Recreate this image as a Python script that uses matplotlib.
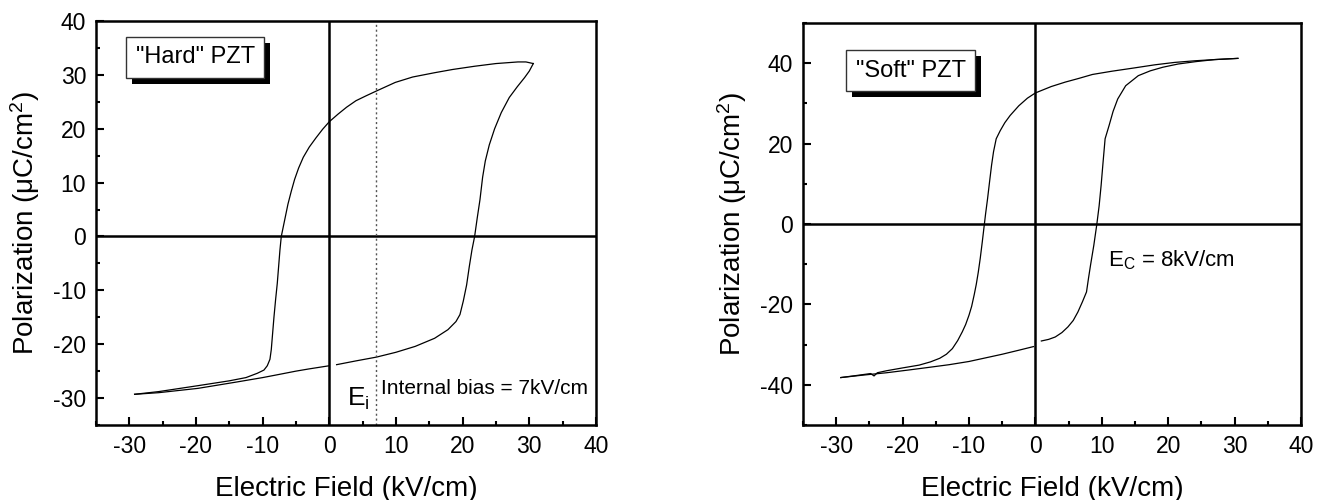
import matplotlib
matplotlib.use('agg')
import matplotlib.pyplot as plt
from matplotlib.ticker import MultipleLocator
from matplotlib.patches import Rectangle

plt.rcParams['font.family'] = ['Liberation Sans', 'DejaVu Sans']
plt.rcParams['mathtext.fontset'] = 'custom'
plt.rcParams['mathtext.rm'] = 'Liberation Sans'
plt.rcParams['mathtext.it'] = 'Liberation Sans'
plt.rcParams['mathtext.default'] = 'regular'
plt.rcParams['axes.unicode_minus'] = False

# "Hard" PZT loop (kV/cm, uC/cm2)
hard_up_E = [30.6, 29.5, 28.3, 25.0, 21.8, 18.5, 15.8, 12.5, 9.9, 7.06, 5.5, 4.0, 2.6, 1.3, 0.0,
             -1.0, -2.0, -3.0, -3.9, -4.6, -5.2, -5.7, -6.2, -6.6, -7.0, -7.2, -7.4, -7.6, -7.8,
             -8.05, -8.3, -8.5, -8.7, -8.9, -9.3, -9.8, -10.8, -12.5, -15.0, -19.7, -25.6, -29.2]
hard_up_P = [32.1, 32.4, 32.4, 32.1, 31.6, 31.0, 30.4, 29.6, 28.6, 27.0, 26.1, 25.2, 24.0, 22.7, 21.3,
             19.9, 18.3, 16.6, 14.7, 12.7, 10.6, 8.4, 6.0, 3.6, 1.2, 0.0, -2.5, -5.6, -8.7,
             -11.7, -15.0, -18.0, -21.0, -22.8, -24.0, -24.8, -25.4, -26.2, -26.8, -27.7, -28.8, -29.3]
hard_lo1_E = [-29.2, -25.6, -19.7, -13.8, -10.0, -7.9, -5.0, -3.1, 0.0]
hard_lo1_P = [-29.3, -29.0, -28.2, -27.0, -26.2, -25.7, -25.0, -24.6, -24.0]
hard_lo2_E = [1.1, 4.0, 7.06, 10.0, 12.9, 15.8, 17.8, 19.0, 19.6, 20.1, 20.6, 21.0, 21.4, 21.8,
              22.2, 22.6, 23.0, 23.4, 24.0, 24.8, 25.8, 27.0, 28.2, 29.3, 30.0, 30.6]
hard_lo2_P = [-23.8, -23.1, -22.4, -21.5, -20.4, -18.9, -17.3, -15.8, -14.5, -12.0, -9.0, -5.6, -2.5, 0.0,
              3.5, 6.8, 11.0, 14.0, 17.0, 20.0, 23.0, 25.8, 27.8, 29.5, 30.7, 32.1]

# "Soft" PZT loop
soft_up_E = [30.5, 27.0, 24.0, 21.0, 18.0, 14.8, 11.5, 8.6, 6.5, 4.5, 2.4, 0.0, -1.2, -2.5, -3.8,
             -4.6, -5.3, -5.9, -6.3, -6.6, -6.9, -7.2, -7.5, -7.7, -8.0, -8.3, -8.6, -8.9, -9.2,
             -9.6, -10.0, -10.5, -11.0, -11.7, -12.5, -13.4, -14.4, -15.8, -17.5, -20.0, -22.4,
             -23.8, -24.3, -24.8, -27.0, -29.3]
soft_up_P = [41.2, 40.9, 40.6, 40.2, 39.6, 38.8, 38.0, 37.2, 36.2, 35.3, 34.2, 32.6, 31.3, 29.4, 27.0,
             25.2, 23.2, 21.2, 18.0, 14.6, 10.5, 6.3, 2.5, -0.3, -4.5, -8.5, -12.0, -15.0, -17.5,
             -20.5, -22.7, -25.0, -26.8, -29.0, -31.0, -32.4, -33.4, -34.3, -35.1, -35.8, -36.5,
             -37.0, -37.8, -37.2, -37.7, -38.2]
soft_lo1_E = [-29.3, -26.0, -22.4, -19.0, -16.2, -13.0, -10.0, -7.5, -5.0, -2.5, -0.3]
soft_lo1_P = [-38.2, -37.6, -37.0, -36.3, -35.7, -35.0, -34.2, -33.3, -32.4, -31.4, -30.5]
soft_lo2_E = [0.9, 2.0, 3.0, 4.0, 4.9, 5.7, 6.4, 7.1, 7.7, 8.0, 8.3, 8.8, 9.25, 9.6, 9.9, 10.2,
              10.5, 11.1, 11.7, 12.4, 13.6, 15.5, 17.3, 19.2, 21.5, 24.2, 27.0, 30.5]
soft_lo2_P = [-29.1, -28.7, -28.1, -27.0, -25.6, -24.0, -21.9, -19.3, -16.9, -13.5, -10.3, -5.3, -0.1,
              4.5, 9.6, 15.5, 21.2, 24.5, 28.0, 31.1, 34.4, 36.9, 38.1, 39.0, 39.8, 40.4, 40.9, 41.2]

hard_ticks_y = [-30, -20, -10, 0, 10, 20, 30, 40]
soft_ticks_y = [-40, -20, 0, 20, 40]
ticks_x = [-30, -20, -10, 0, 10, 20, 30, 40]
bias_E = 7

boxes = []


def shadow_box(ax, x, y, s):
    t = ax.text(x, y, s, ha='center', va='center', fontsize=17, color='black',
                bbox=dict(boxstyle='square,pad=0.4', fc='white', ec='#333333', lw=1), zorder=6)
    boxes.append((ax, t))


def add_shadows(fig):
    fig.canvas.draw()
    r = fig.canvas.get_renderer()
    for ax, t in boxes:
        bb = t.get_bbox_patch().get_window_extent(r)
        inv = ax.transData.inverted()
        (x0, y0), (x1, y1) = inv.transform([(bb.x0 + 6, bb.y0 - 6), (bb.x1 + 6, bb.y1 - 6)])
        ax.add_patch(Rectangle((x0, y0), x1 - x0, y1 - y0, fc='black', ec='none',
                               zorder=5, clip_on=False))


def style(ax, ylim, yticks, ystep):
    ax.set_xlim(-35, 40)
    ax.set_ylim(*ylim)
    ax.set_xticks(ticks_x)
    ax.set_yticks(yticks)
    ax.xaxis.set_minor_locator(MultipleLocator(5))
    ax.yaxis.set_minor_locator(MultipleLocator(ystep))
    ax.tick_params(which='both', direction='in', width=1.5, labelsize=16.5, pad=7)
    ax.tick_params(which='major', length=6)
    ax.tick_params(which='minor', length=3)
    for sp in ax.spines.values():
        sp.set_linewidth(1.8)
    ax.axhline(0, color='black', lw=1.8, zorder=1)
    ax.axvline(0, color='black', lw=1.8, zorder=1)
    ax.set_xlabel('Electric Field (kV/cm)', fontsize=20, labelpad=13)
    ax.set_ylabel('Polarization (μC/cm$^2$)', fontsize=20, labelpad=8)


fig = plt.figure(figsize=(13.27, 5), dpi=100)
ax1 = fig.add_axes([0.0723, 0.15, 0.3768, 0.808])
ax2 = fig.add_axes([0.6051, 0.15, 0.3753, 0.804])

lw = 0.9
ax1.plot(hard_up_E, hard_up_P, color='black', lw=lw)
ax1.plot(hard_lo1_E, hard_lo1_P, color='black', lw=lw)
ax1.plot(hard_lo2_E, hard_lo2_P, color='black', lw=lw)
ax1.axvline(bias_E, color='#555555', lw=1, ls=(0, (1.5, 2)))
style(ax1, (-35, 40), hard_ticks_y, 5)
shadow_box(ax1, -20.1, 33.3, '"Hard" PZT')
ax1.text(2.6, -30.2, '$E_i$', fontsize=19, ha='left', va='center')
ax1.text(7.8, -28.3, 'Internal bias = 7kV/cm', fontsize=15, ha='left', va='center')

ax2.plot(soft_up_E, soft_up_P, color='black', lw=lw)
ax2.plot(soft_lo1_E, soft_lo1_P, color='black', lw=lw)
ax2.plot(soft_lo2_E, soft_lo2_P, color='black', lw=lw)
style(ax2, (-50, 50), soft_ticks_y, 10)
shadow_box(ax2, -18.8, 38.1, '"Soft" PZT')
ax2.text(11.0, -9.0, '$E_C$ = 8kV/cm', fontsize=16, ha='left', va='center')

add_shadows(fig)
fig.savefig('out.png', dpi=100)
